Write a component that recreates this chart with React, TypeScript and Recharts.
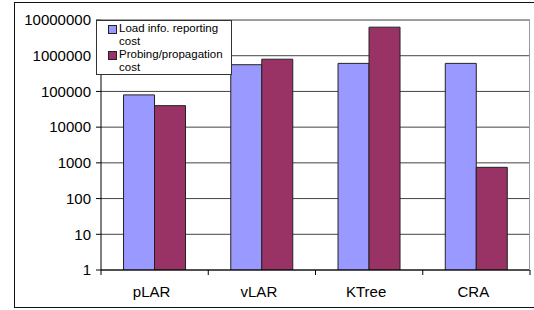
import { BarChart, Bar, XAxis, YAxis, CartesianGrid } from "recharts";

const categories = ["pLAR", "vLAR", "KTree", "CRA"];
const loadInfoCost = [80000, 560000, 610000, 610000];
const probingCost = [40000, 800000, 6300000, 750];
const yTicks = [1, 10, 100, 1000, 10000, 100000, 1000000, 10000000];

const seriesNames = {
  load: "Load info. reporting cost",
  probe: "Probing/propagation cost",
};

const data = categories.map((name, i) => ({
  name,
  load: loadInfoCost[i],
  probe: probingCost[i],
}));

const BLUE = "#9999ff";
const PLUM = "#993366";
const FONT = "Arial, 'Liberation Sans', sans-serif";

const BAND = 429 / categories.length;

// ticks sit between the categories, like in the original spreadsheet chart
function CategoryTick(props: any) {
  const { x, y, payload, index } = props;
  const half = BAND / 2;
  const axisY = y - 8;
  return (
    <g>
      <line x1={x - half} y1={axisY} x2={x - half} y2={axisY + 5} stroke="#000" />
      {index === categories.length - 1 ? (
        <line x1={x + half} y1={axisY} x2={x + half} y2={axisY + 5} stroke="#000" />
      ) : null}
      <text
        x={x - 3}
        y={y + 19}
        textAnchor="middle"
        fontSize={15}
        fontFamily={FONT}
        fill="#000"
      >
        {payload.value}
      </text>
    </g>
  );
}

function LegendBox() {
  const items = [
    { color: BLUE, lines: ["Load info. reporting", "cost"], name: seriesNames.load },
    { color: PLUM, lines: ["Probing/propagation", "cost"], name: seriesNames.probe },
  ];
  return (
    <div
      style={{
        position: "absolute",
        left: 96,
        top: 20,
        width: 134,
        height: 52,
        border: "1px solid #333",
        background: "#fff",
        fontFamily: FONT,
        fontSize: 11.5,
        lineHeight: "13px",
        color: "#000",
        paddingTop: 1,
      }}
    >
      {items.map((it) => (
        <div key={it.name} style={{ display: "flex", alignItems: "flex-start" }}>
          <span
            style={{
              display: "inline-block",
              width: 7,
              height: 7,
              marginLeft: 11,
              marginTop: 3,
              marginRight: 2,
              background: it.color,
              border: "1px solid #222",
              flexShrink: 0,
            }}
          />
          <span>
            {it.lines[0]}
            <br />
            {it.lines[1]}
          </span>
        </div>
      ))}
    </div>
  );
}

export default function App() {
  return (
    <div
      style={{
        position: "fixed",
        left: 0,
        top: 0,
        width: 534,
        height: 310,
        background: "#fff",
        overflow: "hidden",
      }}
    >
      <div
        style={{
          position: "absolute",
          left: 14,
          top: 2,
          width: 540,
          height: 304,
          border: "1px solid #111",
        }}
      />
      <div style={{ position: "absolute", left: 0, top: 0 }}>
        <BarChart
          width={534}
          height={310}
          data={data}
          margin={{ top: 20, right: 4, bottom: 10, left: 0 }}
          barCategoryGap="21%"
          barGap={0}
        >
          <CartesianGrid vertical={false} stroke="#444" />
          <XAxis
            dataKey="name"
            height={30}
            axisLine={{ stroke: "#000" }}
            tickLine={false}
            tick={<CategoryTick />}
            interval={0}
          />
          <YAxis
            scale="log"
            domain={[1, 10000000]}
            ticks={yTicks}
            allowDataOverflow
            width={101}
            axisLine={{ stroke: "#000" }}
            tickLine={{ stroke: "#000" }}
            tickSize={5}
            tickMargin={5}
            tick={{ fontSize: 15, fontFamily: FONT, fill: "#000" }}
          />
          <Bar
            dataKey="load"
            name={seriesNames.load}
            fill={BLUE}
            stroke="#222"
            strokeWidth={1}
            isAnimationActive={false}
          />
          <Bar
            dataKey="probe"
            name={seriesNames.probe}
            fill={PLUM}
            stroke="#222"
            strokeWidth={1}
            isAnimationActive={false}
          />
        </BarChart>
      </div>
      <div
        style={{
          position: "absolute",
          left: 101,
          top: 20,
          width: 429,
          height: 250,
          borderTop: "1px solid #999",
          borderRight: "1px solid #999",
          boxSizing: "border-box",
          pointerEvents: "none",
        }}
      />
      <LegendBox />
    </div>
  );
}
